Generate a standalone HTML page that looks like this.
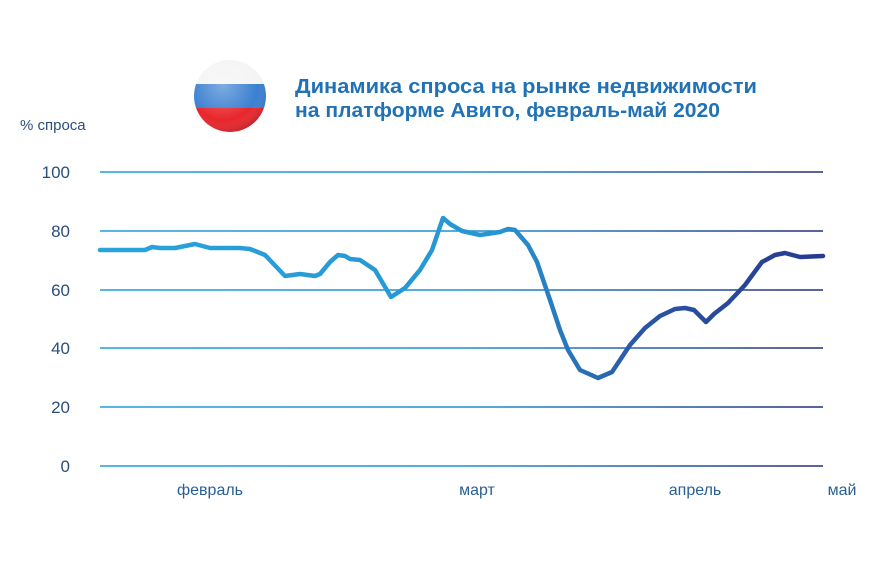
<!DOCTYPE html>
<html><head><meta charset="utf-8"><style>
html,body{margin:0;padding:0;background:#fff;}
body{width:880px;height:562px;overflow:hidden;font-family:"Liberation Sans","DejaVu Sans",sans-serif;}
</style></head><body>
<svg width="880" height="562" viewBox="0 0 880 562" xmlns="http://www.w3.org/2000/svg">
<defs>
<linearGradient id="g" x1="100" y1="0" x2="823" y2="0" gradientUnits="userSpaceOnUse">
<stop offset="0" stop-color="#1fa0dc"/><stop offset="0.5" stop-color="#1e90d0"/><stop offset="0.75" stop-color="#2560ae"/><stop offset="1" stop-color="#252c78"/>
</linearGradient>
<linearGradient id="lg" x1="100" y1="0" x2="823" y2="0" gradientUnits="userSpaceOnUse">
<stop offset="0" stop-color="#2aa3dc"/><stop offset="0.55" stop-color="#2596d2"/><stop offset="0.75" stop-color="#2a55a5"/><stop offset="1" stop-color="#263a8e"/>
</linearGradient>
<clipPath id="c"><circle cx="230" cy="96" r="36"/></clipPath>
<radialGradient id="sh" cx="0.4" cy="0.35" r="0.7"><stop offset="0" stop-color="#fff" stop-opacity="0.35"/><stop offset="0.7" stop-color="#fff" stop-opacity="0"/><stop offset="1" stop-color="#000" stop-opacity="0.2"/></radialGradient>
</defs>
<g clip-path="url(#c)">
<rect x="190" y="58" width="80" height="26" fill="#f4f4f4"/>
<rect x="190" y="84" width="80" height="24" fill="#3a7fd0"/>
<rect x="190" y="108" width="80" height="26" fill="#e8262c"/>
<circle cx="230" cy="96" r="36" fill="url(#sh)"/>
</g>
<text x="295" y="93" font-size="20" font-weight="bold" fill="#2072b5" textLength="462" lengthAdjust="spacingAndGlyphs">Динамика спроса на рынке недвижимости</text>
<text x="295" y="117" font-size="20" font-weight="bold" fill="#2072b5" textLength="425" lengthAdjust="spacingAndGlyphs">на платформе Авито, февраль-май 2020</text>
<text x="20" y="130" font-size="15" fill="#2a4f7a">% спроса</text>
<g stroke="url(#g)" stroke-width="1.6">
<line x1="100" y1="172" x2="823" y2="172"/><line x1="100" y1="231" x2="823" y2="231"/>
<line x1="100" y1="290" x2="823" y2="290"/><line x1="100" y1="348" x2="823" y2="348"/>
<line x1="100" y1="407" x2="823" y2="407"/><line x1="100" y1="466" x2="823" y2="466"/>
</g>
<g font-size="17" fill="#2a4f7a" text-anchor="end">
<text x="70" y="178">100</text><text x="70" y="237">80</text><text x="70" y="296">60</text>
<text x="70" y="354">40</text><text x="70" y="413">20</text><text x="70" y="472">0</text>
</g>
<g font-size="16" fill="#2a5f95" text-anchor="middle">
<text x="210" y="495">февраль</text><text x="477" y="495">март</text><text x="695" y="495">апрель</text><text x="842" y="495">май</text>
</g>
<polyline fill="none" stroke="url(#lg)" stroke-width="4.5" stroke-linejoin="round" stroke-linecap="round"
points="100,250 145,250 152,247 160,248 175,248 195,244 210,248 240,248 250,249 265,255 285,276 300,274 315,276 320,274 330,262 338,255 345,256 350,259 360,260 375,270 391,297 405,288 420,270 432,250 443,218 450,224 462,231 480,235 500,232 508,229 515,230 528,245 537,262 550,300 560,330 568,350 580,370 598,378 612,372 630,345 645,328 660,316 675,309 685,308 694,310 706,322 714,314 728,303 745,285 762,262 775,255 785,253 800,257 823,256"/>
</svg>
</body></html>
